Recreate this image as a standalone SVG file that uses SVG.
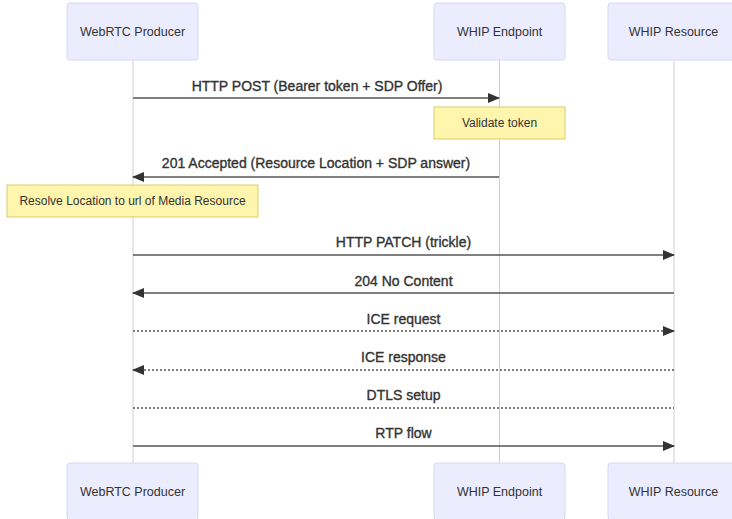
<svg xmlns="http://www.w3.org/2000/svg" width="732" height="519" viewBox="0 0 732 519">
  <style>
    .actor { fill: #ececff; stroke: #d9d6f2; stroke-width: 1; }
    .actor-text { font-family: "Liberation Sans", Arial, sans-serif; font-size: 12.5px; fill: #333; text-anchor: middle; dominant-baseline: central; }
    .lifeline { stroke: #cfcfcf; stroke-width: 1; }
    .note { fill: #fff5ad; stroke: #d8cf6a; stroke-width: 1; }
    .note-text { font-family: "Liberation Sans", Arial, sans-serif; font-size: 12px; fill: #333; text-anchor: middle; dominant-baseline: central; }
    .msg { stroke: #555; stroke-width: 1.5; fill: none; }
    .dotted { stroke-dasharray: 2 2; }
    .msg-text { font-family: "Liberation Sans", Arial, sans-serif; font-size: 14px; fill: #333; stroke: #333; stroke-width: 0.35; text-anchor: middle; }
  </style>
  <defs>
    <marker id="arrowhead" viewBox="0 0 12 10" refX="11" refY="5" markerWidth="12" markerHeight="10" markerUnits="userSpaceOnUse" orient="auto">
      <path d="M0,0 L12,5 L0,10 z" fill="#333"/>
    </marker>
  </defs>

  <!-- lifelines -->
  <g id="lifelines">
    <line class="lifeline" x1="133" y1="60" x2="133" y2="463"/>
    <line class="lifeline" x1="499.5" y1="60" x2="499.5" y2="463"/>
    <line class="lifeline" x1="674" y1="60" x2="674" y2="463"/>
  </g>

  <!-- participants (top) -->
  <g id="producer-top">
    <rect class="actor" x="67" y="3" width="131" height="57" rx="3"/>
    <text class="actor-text" x="132.5" y="32">WebRTC Producer</text>
  </g>
  <g id="endpoint-top">
    <rect class="actor" x="434" y="3" width="131" height="57" rx="3"/>
    <text class="actor-text" x="499.5" y="32">WHIP Endpoint</text>
  </g>
  <g id="resource-top">
    <rect class="actor" x="608" y="3" width="131" height="57" rx="3"/>
    <text class="actor-text" x="673.5" y="32">WHIP Resource</text>
  </g>

  <!-- participants (bottom) -->
  <g id="producer-bottom">
    <rect class="actor" x="67" y="463" width="131" height="57" rx="3"/>
    <text class="actor-text" x="132.5" y="492">WebRTC Producer</text>
  </g>
  <g id="endpoint-bottom">
    <rect class="actor" x="434" y="463" width="131" height="57" rx="3"/>
    <text class="actor-text" x="499.5" y="492">WHIP Endpoint</text>
  </g>
  <g id="resource-bottom">
    <rect class="actor" x="608" y="463" width="131" height="57" rx="3"/>
    <text class="actor-text" x="673.5" y="492">WHIP Resource</text>
  </g>

  <!-- notes -->
  <g id="note-validate">
    <rect class="note" x="434" y="107" width="131" height="32"/>
    <text class="note-text" x="499.5" y="123">Validate token</text>
  </g>
  <g id="note-resolve">
    <rect class="note" x="7" y="185" width="251" height="32"/>
    <text class="note-text" x="132.5" y="201">Resolve Location to url of Media Resource</text>
  </g>

  <!-- messages -->
  <g id="connectors">
    <line class="msg" x1="133" y1="98" x2="499" y2="98" marker-end="url(#arrowhead)"/>
    <line class="msg" x1="499" y1="177" x2="133" y2="177" marker-end="url(#arrowhead)"/>
    <line class="msg" x1="133" y1="255" x2="674" y2="255" marker-end="url(#arrowhead)"/>
    <line class="msg" x1="674" y1="293" x2="133" y2="293" marker-end="url(#arrowhead)"/>
    <line class="msg dotted" x1="133" y1="331" x2="674" y2="331" marker-end="url(#arrowhead)"/>
    <line class="msg dotted" x1="674" y1="370" x2="133" y2="370" marker-end="url(#arrowhead)"/>
    <line class="msg dotted" x1="133" y1="408" x2="674" y2="408"/>
    <line class="msg" x1="133" y1="446" x2="674" y2="446" marker-end="url(#arrowhead)"/>
  </g>

  <g id="labels">
    <text class="msg-text" x="317" y="91">HTTP POST (Bearer token + SDP Offer)</text>
    <text class="msg-text" x="316" y="168">201 Accepted (Resource Location + SDP answer)</text>
    <text class="msg-text" x="403.5" y="247">HTTP PATCH (trickle)</text>
    <text class="msg-text" x="403.5" y="286">204 No Content</text>
    <text class="msg-text" x="403.5" y="324">ICE request</text>
    <text class="msg-text" x="403.5" y="362">ICE response</text>
    <text class="msg-text" x="403.5" y="400">DTLS setup</text>
    <text class="msg-text" x="403.5" y="438">RTP flow</text>
  </g>
</svg>
